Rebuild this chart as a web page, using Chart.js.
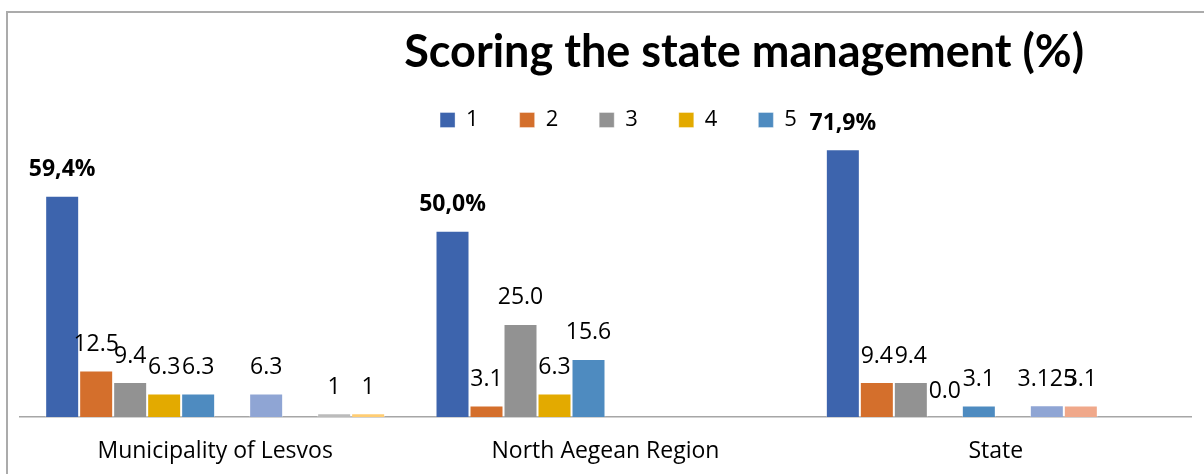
<!DOCTYPE html>
<html>
<head>
<meta charset="utf-8">
<script src="https://cdn.jsdelivr.net/npm/chart.js@4.4.1/dist/chart.umd.min.js"></script>
<style>
  html, body { margin: 0; padding: 0; background: #fff; }
  #wrap { position: relative; width: 1204px; height: 474px; overflow: hidden; }
  #frame {
    position: absolute; left: 6px; top: 11px; width: 1300px; height: 600px;
    border-top: 2px solid #ababab; border-left: 2px solid #ababab;
    pointer-events: none;
  }
  canvas { position: absolute; left: 0; top: 0; }
</style>
</head>
<body>
<div id="wrap">
  <canvas id="chart" width="1204" height="474"></canvas>
  <div id="frame"></div>
</div>
<script>
// chart data
const categories = ['Municipality of Lesvos', 'North Aegean Region', 'State'];
const seriesNames = ['1', '2', '3', '4', '5'];

const score1 = [59.4, 50.0, 71.9];
const score2 = [12.5, 3.1, 9.4];
const score3 = [9.4, 25.0, 9.4];
const score4 = [6.3, 6.3, 0.0];
const score5 = [6.3, 15.6, 3.1];
// extra unnamed series (not in legend)
const extra6 = [null, null, null];
const extra7 = [6.3, null, 3.125];
const extra8 = [null, null, 3.1];
const extra9 = [1, null, null];
const extra10 = [1, null, null];

const colors = ['#3d64ad', '#d46f2c', '#929292', '#e3aa00', '#4e8bc0',
                '#255e91', '#8fa5d4', '#f0a88a', '#bbbbbb', '#ffcd73'];

const FONT = '"Open Sans", "DejaVu Sans", sans-serif';

function makeSet(label, data, i, fmt) {
    return {
        label: label,
        data: data,
        backgroundColor: colors[i],
        borderColor: 'rgba(255,255,255,0.35)',
        borderWidth: 1,
        fmt: fmt
    };
}

const fixed1 = v => v.toFixed(1);
const plain = v => String(v);
const pct = v => v.toFixed(1).replace('.', ',') + '%';

const datasets = [
    makeSet(seriesNames[0], score1, 0, pct),
    makeSet(seriesNames[1], score2, 1, fixed1),
    makeSet(seriesNames[2], score3, 2, fixed1),
    makeSet(seriesNames[3], score4, 3, fixed1),
    makeSet(seriesNames[4], score5, 4, fixed1),
    makeSet('', extra6, 5, plain),
    makeSet('', extra7, 6, plain),
    makeSet('', extra8, 7, plain),
    makeSet('', extra9, 8, plain),
    makeSet('', extra10, 9, plain)
];

// value labels above bars
const valueLabels = {
    id: 'valueLabels',
    afterDatasetsDraw(chart) {
        const ctx = chart.ctx;
        ctx.save();
        ctx.textAlign = 'center';
        ctx.textBaseline = 'middle';
        ctx.fillStyle = '#000';
        chart.data.datasets.forEach((ds, di) => {
            const meta = chart.getDatasetMeta(di);
            meta.data.forEach((bar, idx) => {
                const v = ds.data[idx];
                if (v === null || v === undefined) return;
                ctx.font = (di === 0 ? 'bold ' : '') + '23px ' + FONT;
                ctx.fillText(ds.fmt(v), bar.x, bar.y - 26);
            });
        });
        ctx.restore();
    }
};

// title sits right of centre like the original
const offsetTitle = {
    id: 'offsetTitle',
    afterDraw(chart) {
        const ctx = chart.ctx;
        ctx.save();
        ctx.font = 'bold 45px Lato, "Open Sans", sans-serif';
        ctx.fillStyle = '#000';
        ctx.textAlign = 'center';
        ctx.textBaseline = 'alphabetic';
        ctx.fillText('Scoring the state management (%)', chart.width * 0.618, 67);
        ctx.restore();
    }
};

// legend overlaps the plot top in the original: keep its layout box small
// but stop it clipping its own items, and nudge it right a little
const legendOverlap = {
    id: 'legendOverlap',
    afterLayout(chart) {
        const lg = chart.legend;
        if (!lg) return;
        lg.bottom = lg.top + 110;
        lg.height = 110;
        lg.left += 13;
        lg.right += 13;
    }
};

new Chart(document.getElementById('chart'), {
    type: 'bar',
    data: { labels: categories, datasets: datasets },
    options: {
        responsive: false,
        animation: false,
        layout: { padding: { top: 68, left: 20, right: 13, bottom: 8 } },
        datasets: {
            bar: { categoryPercentage: 0.871, barPercentage: 1.0 }
        },
        scales: {
            x: {
                grid: { display: false, drawTicks: false },
                border: { display: true, color: '#a6a6a6', width: 1.5 },
                ticks: { color: '#000', font: { family: FONT, size: 23 }, padding: 21 },
                afterFit: scale => { scale.height = 49; }
            },
            y: {
                display: false,
                min: 0,
                max: 80
            }
        },
        plugins: {
            title: { display: false },
            tooltip: { enabled: false },
            legend: {
                position: 'top',
                maxHeight: 51,
                labels: {
                    color: '#000',
                    font: { family: FONT, size: 22 },
                    boxWidth: 15,
                    boxHeight: 15,
                    padding: 41,
                    filter: item => item.text !== ''
                }
            }
        }
    },
    plugins: [valueLabels, offsetTitle, legendOverlap]
});
</script>
</body>
</html>
